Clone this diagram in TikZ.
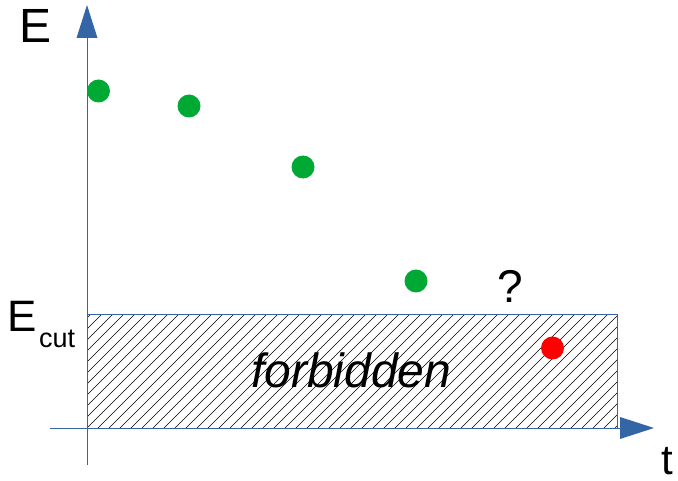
\documentclass[tikz,border=0pt]{standalone}
\usepackage{fontspec}
\setmainfont{Liberation Sans}
\begin{document}
\begin{tikzpicture}[x=1pt,y=-1pt,
  axis/.style={draw=axisblue,line width=1pt},
  head/.style={fill=axisblue,draw=none},
  dot/.style={circle,minimum size=23pt,inner sep=0pt},
  lbl/.style={inner sep=0pt,anchor=base west,text=black}]
\definecolor{axisblue}{HTML}{3465A4}
\definecolor{dotgreen}{HTML}{00A933}
\definecolor{dotred}{HTML}{FF0000}
\useasboundingbox (0,0) rectangle (678,481);

% forbidden region with hatching
\coordinate (r1) at (87,315);
\coordinate (r2) at (617,428);
\begin{scope}
  \clip (r1) rectangle (r2);
  \foreach \i in {-12,...,48} {
    \draw[black,line width=0.65pt] ({87+11*\i},428) -- ++(120,-120);
  }
\end{scope}
\draw[axis] (r1) rectangle (r2);

% axes
\coordinate (ybot) at (87,465);
\coordinate (ytop) at (87,38);
\coordinate (xleft) at (50,428);
\coordinate (xright) at (620,428);
\draw[axis] (ybot) -- (ytop);
\draw[axis] (xleft) -- (xright);
\fill[head] (76.5,38) -- (87,5) -- (97.5,38) -- cycle;
\fill[head] (620,417) -- (654,428) -- (620,439) -- cycle;

% data points
\node[dot,fill=dotgreen] (p1) at (98.5,91) {};
\node[dot,fill=dotgreen] (p2) at (189,106) {};
\node[dot,fill=dotgreen] (p3) at (303,167) {};
\node[dot,fill=dotgreen] (p4) at (416,281) {};
\node[dot,fill=dotred] (p5) at (552.5,348) {};

% labels
\node[lbl,font=\fontsize{48}{48}\selectfont] (lE) at (19,43) {E};
\node[lbl,font=\fontsize{44}{44}\selectfont] (lEc) at (7,332) {E};
\node[lbl,font=\fontsize{27}{27}\selectfont] (lcut) at (39,348) {cut};
\node[lbl,font=\fontsize{48}{48}\selectfont\itshape] (lf) at (251,387) {forbidden};
\node[inner sep=0pt,anchor=base,font=\fontsize{46}{46}\selectfont] (lq) at (510,303) {?};
\node[lbl,font=\fontsize{42}{42}\selectfont] (lt) at (661,474) {t};
\end{tikzpicture}
\end{document}
